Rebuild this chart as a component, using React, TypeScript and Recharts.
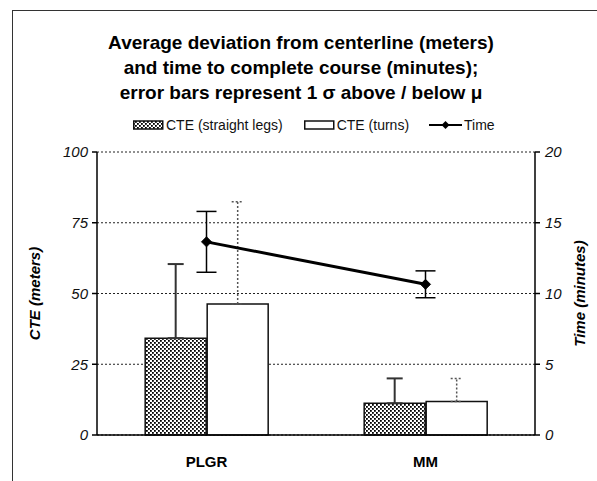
import {
  ComposedChart,
  Bar,
  Line,
  XAxis,
  YAxis,
  CartesianGrid,
  ErrorBar,
} from "recharts";

const categories = ["PLGR", "MM"];
const straightLegs = [34.2, 11.2];
const straightSigma = [26.2, 8.8];
const turns = [46.3, 11.8];
const turnsSigma = [36.1, 8.2];
const time = [13.65, 10.65];
const timeSigma = [2.15, 0.95];

const cteTicks = [0, 25, 50, 75, 100];
const timeTicks = [0, 5, 10, 15, 20];

const titleLines = [
  "Average deviation from centerline (meters)",
  "and time to complete course (minutes);",
  "error bars represent 1 \u03c3 above / below \u03bc",
];

const data = categories.map((name, i) => ({
  name,
  straight: straightLegs[i],
  straightErr: [0, straightSigma[i]],
  turns: turns[i],
  turnsErr: [0, turnsSigma[i]],
  time: time[i],
  timeErr: timeSigma[i],
}));

const FONT = '"Liberation Sans", Arial, sans-serif';

const Diamond = (props: any) => {
  const { cx, cy } = props;
  if (cx == null || cy == null) return null;
  const s = 5;
  return (
    <polygon
      points={`${cx},${cy - s} ${cx + s},${cy} ${cx},${cy + s} ${cx - s},${cy}`}
      fill="#000"
      stroke="#000"
    />
  );
};

function DotPattern({ id }: { id: string }) {
  return (
    <pattern id={id} width={4} height={4} patternUnits="userSpaceOnUse">
      <rect width={4} height={4} fill="#fff" />
      <rect width={1.8} height={1.8} fill="#000" />
      <rect x={2} y={2} width={1.8} height={1.8} fill="#000" />
    </pattern>
  );
}

function LegendRow() {
  return (
    <div
      style={{
        position: "absolute",
        top: 117,
        left: 133,
        display: "flex",
        alignItems: "center",
        fontSize: 14,
        color: "#111",
        whiteSpace: "nowrap",
      }}
    >
      <svg width={31} height={12}>
        <defs>
          <DotPattern id="dotsLegend" />
        </defs>
        <rect x={0.75} y={2} width={29} height={8} fill="url(#dotsLegend)" stroke="#111" strokeWidth={1.5} />
      </svg>
      <span style={{ marginLeft: 2, marginRight: 21 }}>CTE (straight legs)</span>
      <svg width={31} height={12}>
        <rect x={0.75} y={2} width={29} height={8} fill="#fff" stroke="#111" strokeWidth={1.5} />
      </svg>
      <span style={{ marginLeft: 2, marginRight: 20 }}>CTE (turns)</span>
      <svg width={33} height={12}>
        <line x1={0} y1={6} x2={33} y2={6} stroke="#000" strokeWidth={2} />
        <polygon points="16.5,2 20.5,6 16.5,10 12.5,6" fill="#000" />
      </svg>
      <span style={{ marginLeft: 2 }}>Time</span>
    </div>
  );
}

export default function App() {
  return (
    <div
      style={{
        position: "fixed",
        left: 0,
        top: 0,
        width: 597,
        height: 481,
        overflow: "hidden",
        background: "#fff",
        fontFamily: FONT,
      }}
    >
      <div
        style={{
          position: "absolute",
          left: 12,
          top: 10,
          width: 640,
          height: 520,
          border: "1px solid #333",
        }}
      />
      <div
        style={{
          position: "absolute",
          top: 30,
          left: 0,
          width: 602,
          textAlign: "center",
          fontWeight: "bold",
          fontSize: 19,
          lineHeight: "25px",
          color: "#000",
        }}
      >
        {titleLines.map((t) => (
          <div key={t}>{t}</div>
        ))}
      </div>
      <LegendRow />
      <div style={{ position: "absolute", left: 0, top: 0 }}>
        <ComposedChart
          width={597}
          height={481}
          data={data}
          margin={{ top: 152, right: 7, left: 27, bottom: 16 }}
          barCategoryGap="22%"
          barGap={1}
        >
          <defs>
            <DotPattern id="dots" />
          </defs>
          <CartesianGrid
            yAxisId="left"
            vertical={false}
            strokeDasharray="2 2"
            stroke="#222"
          />
          <XAxis
            dataKey="name"
            height={30}
            tickLine={false}
            tickSize={0}
            tickMargin={21}
            axisLine={{ stroke: "#000", strokeWidth: 1.5 }}
            tick={{ fontSize: 15, fontWeight: "bold", fill: "#000" }}
          />
          <YAxis
            yAxisId="left"
            width={70}
            domain={[0, 100]}
            ticks={cteTicks}
            interval={0}
            tickSize={5}
            tickMargin={4}
            axisLine={{ stroke: "#000", strokeWidth: 1.5 }}
            tickLine={{ stroke: "#000", strokeWidth: 1.5 }}
            tick={{ fontSize: 15, fontStyle: "italic", fill: "#111" }}
            label={{
              value: "CTE (meters)",
              angle: -90,
              position: "insideLeft",
              offset: 8,
              fontSize: 15,
              fontWeight: "bold",
              fontStyle: "italic",
              fill: "#000",
              style: { textAnchor: "middle" },
            }}
          />
          <YAxis
            yAxisId="right"
            orientation="right"
            width={55}
            domain={[0, 20]}
            ticks={timeTicks}
            interval={0}
            tickSize={5}
            tickMargin={5}
            axisLine={{ stroke: "#000", strokeWidth: 1.5 }}
            tickLine={{ stroke: "#000", strokeWidth: 1.5 }}
            tick={{ fontSize: 15, fontStyle: "italic", fill: "#111" }}
            label={{
              value: "Time (minutes)",
              angle: -90,
              position: "insideRight",
              offset: 10,
              fontSize: 15,
              fontWeight: "bold",
              fontStyle: "italic",
              fill: "#000",
              style: { textAnchor: "middle" },
            }}
          />
          <Bar
            yAxisId="left"
            dataKey="straight"
            fill="url(#dots)"
            stroke="#111"
            strokeWidth={1.5}
            isAnimationActive={false}
          >
            <ErrorBar dataKey="straightErr" direction="y" width={8} stroke="#333" strokeWidth={2} />
          </Bar>
          <Bar
            yAxisId="left"
            dataKey="turns"
            fill="#fff"
            stroke="#111"
            strokeWidth={1.5}
            isAnimationActive={false}
          >
            <ErrorBar
              dataKey="turnsErr"
              direction="y"
              width={6}
              stroke="#555"
              strokeWidth={1.5}
              strokeDasharray="2 2"
            />
          </Bar>
          <Line
            yAxisId="right"
            dataKey="time"
            stroke="#000"
            strokeWidth={3}
            dot={<Diamond />}
            activeDot={false}
            isAnimationActive={false}
          >
            <ErrorBar dataKey="timeErr" direction="y" width={10} stroke="#000" strokeWidth={1.5} />
          </Line>
        </ComposedChart>
      </div>
    </div>
  );
}
